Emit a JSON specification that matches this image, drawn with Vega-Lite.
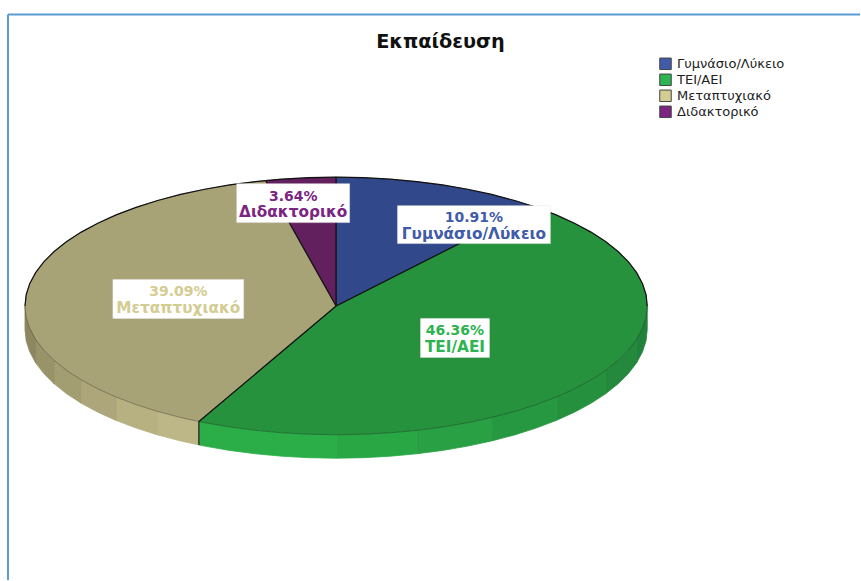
{
  "$schema": "https://vega.github.io/schema/vega-lite/v6.json",
  "width": 861,
  "height": 581,
  "padding": 0,
  "autosize": {"type": "fit", "contains": "padding"},
  "background": "white",
  "config": {"view": {"stroke": null}},
  "datasets": {
    "wedges": [
      {"series":"Γυμνάσιο/Λύκειο","i":0,"x":0,"y":0},{"series":"Γυμνάσιο/Λύκειο","i":1,"x":0,"y":1},{"series":"Γυμνάσιο/Λύκειο","i":2,"x":0.0872,"y":0.9962},{"series":"Γυμνάσιο/Λύκειο","i":3,"x":0.1736,"y":0.9848},{"series":"Γυμνάσιο/Λύκειο","i":4,"x":0.2588,"y":0.9659},{"series":"Γυμνάσιο/Λύκειο","i":5,"x":0.342,"y":0.9397},{"series":"Γυμνάσιο/Λύκειο","i":6,"x":0.4226,"y":0.9063},{"series":"Γυμνάσιο/Λύκειο","i":7,"x":0.5,"y":0.866},{"series":"Γυμνάσιο/Λύκειο","i":8,"x":0.5736,"y":0.8192},{"series":"Γυμνάσιο/Λύκειο","i":9,"x":0.6331,"y":0.774},{"series":"Γυμνάσιο/Λύκειο","i":10,"x":0,"y":0},
      {"series":"ΤΕΙ/ΑΕΙ","i":0,"x":0,"y":0},{"series":"ΤΕΙ/ΑΕΙ","i":1,"x":0.6331,"y":0.774},{"series":"ΤΕΙ/ΑΕΙ","i":2,"x":0.6428,"y":0.766},{"series":"ΤΕΙ/ΑΕΙ","i":3,"x":0.7071,"y":0.7071},{"series":"ΤΕΙ/ΑΕΙ","i":4,"x":0.766,"y":0.6428},{"series":"ΤΕΙ/ΑΕΙ","i":5,"x":0.8192,"y":0.5736},{"series":"ΤΕΙ/ΑΕΙ","i":6,"x":0.866,"y":0.5},{"series":"ΤΕΙ/ΑΕΙ","i":7,"x":0.9063,"y":0.4226},{"series":"ΤΕΙ/ΑΕΙ","i":8,"x":0.9397,"y":0.342},{"series":"ΤΕΙ/ΑΕΙ","i":9,"x":0.9659,"y":0.2588},{"series":"ΤΕΙ/ΑΕΙ","i":10,"x":0.9848,"y":0.1736},{"series":"ΤΕΙ/ΑΕΙ","i":11,"x":0.9962,"y":0.0872},{"series":"ΤΕΙ/ΑΕΙ","i":12,"x":1,"y":0},{"series":"ΤΕΙ/ΑΕΙ","i":13,"x":0.9962,"y":-0.0872},{"series":"ΤΕΙ/ΑΕΙ","i":14,"x":0.9848,"y":-0.1736},{"series":"ΤΕΙ/ΑΕΙ","i":15,"x":0.9659,"y":-0.2588},{"series":"ΤΕΙ/ΑΕΙ","i":16,"x":0.9397,"y":-0.342},{"series":"ΤΕΙ/ΑΕΙ","i":17,"x":0.9063,"y":-0.4226},{"series":"ΤΕΙ/ΑΕΙ","i":18,"x":0.866,"y":-0.5},{"series":"ΤΕΙ/ΑΕΙ","i":19,"x":0.8192,"y":-0.5736},{"series":"ΤΕΙ/ΑΕΙ","i":20,"x":0.766,"y":-0.6428},{"series":"ΤΕΙ/ΑΕΙ","i":21,"x":0.7071,"y":-0.7071},{"series":"ΤΕΙ/ΑΕΙ","i":22,"x":0.6428,"y":-0.766},{"series":"ΤΕΙ/ΑΕΙ","i":23,"x":0.5736,"y":-0.8192},{"series":"ΤΕΙ/ΑΕΙ","i":24,"x":0.5,"y":-0.866},{"series":"ΤΕΙ/ΑΕΙ","i":25,"x":0.4226,"y":-0.9063},{"series":"ΤΕΙ/ΑΕΙ","i":26,"x":0.342,"y":-0.9397},{"series":"ΤΕΙ/ΑΕΙ","i":27,"x":0.2588,"y":-0.9659},{"series":"ΤΕΙ/ΑΕΙ","i":28,"x":0.1736,"y":-0.9848},{"series":"ΤΕΙ/ΑΕΙ","i":29,"x":0.0872,"y":-0.9962},{"series":"ΤΕΙ/ΑΕΙ","i":30,"x":0,"y":-1},{"series":"ΤΕΙ/ΑΕΙ","i":31,"x":-0.0872,"y":-0.9962},{"series":"ΤΕΙ/ΑΕΙ","i":32,"x":-0.1736,"y":-0.9848},{"series":"ΤΕΙ/ΑΕΙ","i":33,"x":-0.2588,"y":-0.9659},{"series":"ΤΕΙ/ΑΕΙ","i":34,"x":-0.342,"y":-0.9397},{"series":"ΤΕΙ/ΑΕΙ","i":35,"x":-0.4226,"y":-0.9063},{"series":"ΤΕΙ/ΑΕΙ","i":36,"x":-0.441,"y":-0.8975},{"series":"ΤΕΙ/ΑΕΙ","i":37,"x":0,"y":0},
      {"series":"Μεταπτυχιακό","i":0,"x":0,"y":0},{"series":"Μεταπτυχιακό","i":1,"x":-0.441,"y":-0.8975},{"series":"Μεταπτυχιακό","i":2,"x":-0.5,"y":-0.866},{"series":"Μεταπτυχιακό","i":3,"x":-0.5736,"y":-0.8192},{"series":"Μεταπτυχιακό","i":4,"x":-0.6428,"y":-0.766},{"series":"Μεταπτυχιακό","i":5,"x":-0.7071,"y":-0.7071},{"series":"Μεταπτυχιακό","i":6,"x":-0.766,"y":-0.6428},{"series":"Μεταπτυχιακό","i":7,"x":-0.8192,"y":-0.5736},{"series":"Μεταπτυχιακό","i":8,"x":-0.866,"y":-0.5},{"series":"Μεταπτυχιακό","i":9,"x":-0.9063,"y":-0.4226},{"series":"Μεταπτυχιακό","i":10,"x":-0.9397,"y":-0.342},{"series":"Μεταπτυχιακό","i":11,"x":-0.9659,"y":-0.2588},{"series":"Μεταπτυχιακό","i":12,"x":-0.9848,"y":-0.1736},{"series":"Μεταπτυχιακό","i":13,"x":-0.9962,"y":-0.0872},{"series":"Μεταπτυχιακό","i":14,"x":-1,"y":0},{"series":"Μεταπτυχιακό","i":15,"x":-0.9962,"y":0.0872},{"series":"Μεταπτυχιακό","i":16,"x":-0.9848,"y":0.1736},{"series":"Μεταπτυχιακό","i":17,"x":-0.9659,"y":0.2588},{"series":"Μεταπτυχιακό","i":18,"x":-0.9397,"y":0.342},{"series":"Μεταπτυχιακό","i":19,"x":-0.9063,"y":0.4226},{"series":"Μεταπτυχιακό","i":20,"x":-0.866,"y":0.5},{"series":"Μεταπτυχιακό","i":21,"x":-0.8192,"y":0.5736},{"series":"Μεταπτυχιακό","i":22,"x":-0.766,"y":0.6428},{"series":"Μεταπτυχιακό","i":23,"x":-0.7071,"y":0.7071},{"series":"Μεταπτυχιακό","i":24,"x":-0.6428,"y":0.766},{"series":"Μεταπτυχιακό","i":25,"x":-0.5736,"y":0.8192},{"series":"Μεταπτυχιακό","i":26,"x":-0.5,"y":0.866},{"series":"Μεταπτυχιακό","i":27,"x":-0.4226,"y":0.9063},{"series":"Μεταπτυχιακό","i":28,"x":-0.342,"y":0.9397},{"series":"Μεταπτυχιακό","i":29,"x":-0.2588,"y":0.9659},{"series":"Μεταπτυχιακό","i":30,"x":-0.2267,"y":0.974},{"series":"Μεταπτυχιακό","i":31,"x":0,"y":0},
      {"series":"Διδακτορικό","i":0,"x":0,"y":0},{"series":"Διδακτορικό","i":1,"x":-0.2267,"y":0.974},{"series":"Διδακτορικό","i":2,"x":-0.1736,"y":0.9848},{"series":"Διδακτορικό","i":3,"x":-0.0872,"y":0.9962},{"series":"Διδακτορικό","i":4,"x":0,"y":1},{"series":"Διδακτορικό","i":5,"x":0,"y":0}
    ],
    "side": [
      {"piece":"g1","x":1,"y":0,"y2":-0.182},{"piece":"g1","x":0.9962,"y":-0.0872,"y2":-0.2692},{"piece":"g1","x":0.9848,"y":-0.1736,"y2":-0.3556},{"piece":"g1","x":0.9659,"y":-0.2588,"y2":-0.4408},
      {"piece":"g2","x":0.9659,"y":-0.2588,"y2":-0.4408},{"piece":"g2","x":0.9397,"y":-0.342,"y2":-0.524},{"piece":"g2","x":0.9063,"y":-0.4226,"y2":-0.6046},{"piece":"g2","x":0.866,"y":-0.5,"y2":-0.682},
      {"piece":"g3","x":0.866,"y":-0.5,"y2":-0.682},{"piece":"g3","x":0.8192,"y":-0.5736,"y2":-0.7556},{"piece":"g3","x":0.766,"y":-0.6428,"y2":-0.8248},{"piece":"g3","x":0.7071,"y":-0.7071,"y2":-0.8891},
      {"piece":"g4","x":0.7071,"y":-0.7071,"y2":-0.8891},{"piece":"g4","x":0.6428,"y":-0.766,"y2":-0.948},{"piece":"g4","x":0.5736,"y":-0.8192,"y2":-1.0012},{"piece":"g4","x":0.5,"y":-0.866,"y2":-1.048},
      {"piece":"g5","x":0.5,"y":-0.866,"y2":-1.048},{"piece":"g5","x":0.4226,"y":-0.9063,"y2":-1.0883},{"piece":"g5","x":0.342,"y":-0.9397,"y2":-1.1217},{"piece":"g5","x":0.2588,"y":-0.9659,"y2":-1.1479},
      {"piece":"g6","x":0.2588,"y":-0.9659,"y2":-1.1479},{"piece":"g6","x":0.1736,"y":-0.9848,"y2":-1.1668},{"piece":"g6","x":0.0872,"y":-0.9962,"y2":-1.1782},{"piece":"g6","x":0,"y":-1,"y2":-1.182},
      {"piece":"g7","x":0,"y":-1,"y2":-1.182},{"piece":"g7","x":-0.0872,"y":-0.9962,"y2":-1.1782},{"piece":"g7","x":-0.1736,"y":-0.9848,"y2":-1.1668},{"piece":"g7","x":-0.2588,"y":-0.9659,"y2":-1.1479},{"piece":"g7","x":-0.342,"y":-0.9397,"y2":-1.1217},{"piece":"g7","x":-0.4226,"y":-0.9063,"y2":-1.0883},{"piece":"g7","x":-0.441,"y":-0.8975,"y2":-1.0795},
      {"piece":"t1","x":-0.441,"y":-0.8975,"y2":-1.0795},{"piece":"t1","x":-0.5,"y":-0.866,"y2":-1.048},{"piece":"t1","x":-0.5736,"y":-0.8192,"y2":-1.0012},
      {"piece":"t2","x":-0.5736,"y":-0.8192,"y2":-1.0012},{"piece":"t2","x":-0.6428,"y":-0.766,"y2":-0.948},{"piece":"t2","x":-0.7071,"y":-0.7071,"y2":-0.8891},
      {"piece":"t3","x":-0.7071,"y":-0.7071,"y2":-0.8891},{"piece":"t3","x":-0.766,"y":-0.6428,"y2":-0.8248},{"piece":"t3","x":-0.8192,"y":-0.5736,"y2":-0.7556},
      {"piece":"t4","x":-0.8192,"y":-0.5736,"y2":-0.7556},{"piece":"t4","x":-0.866,"y":-0.5,"y2":-0.682},{"piece":"t4","x":-0.9063,"y":-0.4226,"y2":-0.6046},
      {"piece":"t5","x":-0.9063,"y":-0.4226,"y2":-0.6046},{"piece":"t5","x":-0.9397,"y":-0.342,"y2":-0.524},{"piece":"t5","x":-0.9659,"y":-0.2588,"y2":-0.4408},
      {"piece":"t6","x":-0.9659,"y":-0.2588,"y2":-0.4408},{"piece":"t6","x":-0.9848,"y":-0.1736,"y2":-0.3556},{"piece":"t6","x":-0.9962,"y":-0.0872,"y2":-0.2692},{"piece":"t6","x":-1,"y":0,"y2":-0.182}
    ],
    "spokes": [
      {"x":0,"y":1,"x2":0,"y2":0},
      {"x":0.6331,"y":0.774,"x2":0,"y2":0},
      {"x":-0.441,"y":-0.8975,"x2":0,"y2":0},
      {"x":-0.2267,"y":0.974,"x2":0,"y2":0},
      {"x":-0.441,"y":-0.8975,"x2":-0.441,"y2":-1.0795}
    ],
    "labels": [
      {"series":"Γυμνάσιο/Λύκειο","share":0.1091,"cx":0.443,"cy":0.6318,"bx0":0.1974,"bx1":0.6886,"by0":0.7791,"by1":0.4845},
      {"series":"ΤΕΙ/ΑΕΙ","share":0.4636,"cx":0.382,"cy":-0.2481,"bx0":0.2713,"bx1":0.4928,"by0":-0.0969,"by1":-0.3992},
      {"series":"Μεταπτυχιακό","share":0.3909,"cx":-0.5072,"cy":0.0543,"bx0":-0.7175,"bx1":-0.297,"by0":0.2054,"by1":-0.0969},
      {"series":"Διδακτορικό","share":0.0364,"cx":-0.138,"cy":0.7984,"bx0":-0.3194,"bx1":0.0433,"by0":0.9496,"by1":0.6473}
    ],
    "frame": [
      {"x":-1.0546,"x2":1.6838,"y":2.264,"y2":2.264},
      {"x":-1.0546,"x2":-1.0546,"y":2.264,"y2":-2.1279}
    ],
    "heading": [{"text":"Εκπαίδευση","x":0.3355,"y":2.052}]
  },
  "layer": [
    {
      "data": {"name": "side"},
      "mark": {"type": "area", "orient": "vertical", "strokeWidth": 0.8},
      "encoding": {
        "x": {"field": "x", "type": "quantitative", "scale": {"domain": [-1.0803, 1.6838], "nice": false, "zero": false}, "axis": null},
        "y": {"field": "y", "type": "quantitative", "scale": {"domain": [-2.1279, 2.376], "nice": false, "zero": false}, "axis": null, "stack": null},
        "y2": {"field": "y2"},
        "fill": {
          "field": "piece", "type": "nominal", "legend": null,
          "scale": {
            "domain": ["g1","g2","g3","g4","g5","g6","g7","t1","t2","t3","t4","t5","t6"],
            "range": ["#22813A","#24893C","#25913E","#269841","#28A043","#29A745","#2BAE48","#BDB686","#B7B081","#ACA67A","#A39D72","#989369","#8C875F"]
          }
        },
        "stroke": {
          "field": "piece", "type": "nominal", "legend": null,
          "scale": {
            "domain": ["g1","g2","g3","g4","g5","g6","g7","t1","t2","t3","t4","t5","t6"],
            "range": ["#22813A","#24893C","#25913E","#269841","#28A043","#29A745","#2BAE48","#BDB686","#B7B081","#ACA67A","#A39D72","#989369","#8C875F"]
          }
        }
      }
    },
    {
      "data": {"name": "wedges"},
      "mark": {"type": "line", "strokeWidth": 1, "stroke": "#000000", "strokeOpacity": 0.3},
      "encoding": {
        "x": {"field": "x", "type": "quantitative"},
        "y": {"field": "y", "type": "quantitative"},
        "order": {"field": "i", "type": "quantitative"},
        "fill": {
          "field": "series", "type": "nominal", "legend": null,
          "scale": {
            "domain": ["Γυμνάσιο/Λύκειο","ΤΕΙ/ΑΕΙ","Μεταπτυχιακό","Διδακτορικό"],
            "range": ["#31488A","#27923D","#A8A277","#63205F"]
          }
        }
      }
    },
    {
      "data": {"name": "wedges"},
      "transform": [{"filter": "datum.y >= 0 && datum.x * datum.x + datum.y * datum.y > 0.5"}],
      "mark": {"type": "line", "stroke": "#111111", "strokeWidth": 1.2},
      "encoding": {
        "x": {"field": "x", "type": "quantitative"},
        "y": {"field": "y", "type": "quantitative"},
        "order": {"field": "i", "type": "quantitative"},
        "detail": {"field": "series"}
      }
    },
    {
      "data": {"name": "spokes"},
      "mark": {"type": "rule", "stroke": "#111111", "strokeWidth": 1.2},
      "encoding": {
        "x": {"field": "x", "type": "quantitative"},
        "x2": {"field": "x2"},
        "y": {"field": "y", "type": "quantitative"},
        "y2": {"field": "y2"}
      }
    },
    {
      "data": {"name": "labels"},
      "mark": {"type": "rect", "fill": "white", "stroke": "#E4E4E4", "strokeWidth": 0.5},
      "encoding": {
        "x": {"field": "bx0", "type": "quantitative"},
        "x2": {"field": "bx1"},
        "y": {"field": "by0", "type": "quantitative"},
        "y2": {"field": "by1"}
      }
    },
    {
      "data": {"name": "labels"},
      "mark": {"type": "text", "font": "DejaVu Sans", "fontWeight": "bold", "fontSize": 14, "baseline": "middle", "align": "center", "dy": -6.5},
      "encoding": {
        "x": {"field": "cx", "type": "quantitative"},
        "y": {"field": "cy", "type": "quantitative"},
        "text": {"field": "share", "type": "quantitative", "format": ".2%"},
        "color": {
          "field": "series", "type": "nominal",
          "scale": {
            "domain": ["Γυμνάσιο/Λύκειο","ΤΕΙ/ΑΕΙ","Μεταπτυχιακό","Διδακτορικό"],
            "range": ["#3F5BA9","#2DB34F","#D3CC93","#7B2482"]
          },
          "legend": {
            "title": null,
            "orient": "none",
            "legendX": 659,
            "legendY": 56,
            "symbolType": "square",
            "symbolSize": 132,
            "symbolStrokeColor": "#444444",
            "symbolStrokeWidth": 1,
            "labelFont": "DejaVu Sans",
            "labelFontSize": 13,
            "labelColor": "#222222",
            "rowPadding": 0,
            "clipHeight": 15.6,
            "labelOffset": 5,
            "values": ["Γυμνάσιο/Λύκειο","ΤΕΙ/ΑΕΙ","Μεταπτυχιακό","Διδακτορικό"]
          }
        }
      }
    },
    {
      "data": {"name": "labels"},
      "mark": {"type": "text", "font": "DejaVu Sans", "fontWeight": "bold", "fontSize": 15.3, "baseline": "middle", "align": "center", "dy": 9},
      "encoding": {
        "x": {"field": "cx", "type": "quantitative"},
        "y": {"field": "cy", "type": "quantitative"},
        "text": {"field": "series", "type": "nominal"},
        "color": {"field": "series", "type": "nominal"}
      }
    },
    {
      "data": {"name": "heading"},
      "mark": {"type": "text", "font": "DejaVu Sans", "fontWeight": "bold", "fontSize": 19.3, "baseline": "middle", "align": "center", "color": "#111111"},
      "encoding": {
        "x": {"field": "x", "type": "quantitative"},
        "y": {"field": "y", "type": "quantitative"},
        "text": {"field": "text", "type": "nominal"}
      }
    },
    {
      "data": {"name": "frame"},
      "mark": {"type": "rule", "stroke": "#5B9BD5", "strokeWidth": 2},
      "encoding": {
        "x": {"field": "x", "type": "quantitative"},
        "x2": {"field": "x2"},
        "y": {"field": "y", "type": "quantitative"},
        "y2": {"field": "y2"}
      }
    }
  ],
  "resolve": {"scale": {"fill": "independent", "stroke": "independent"}}
}
